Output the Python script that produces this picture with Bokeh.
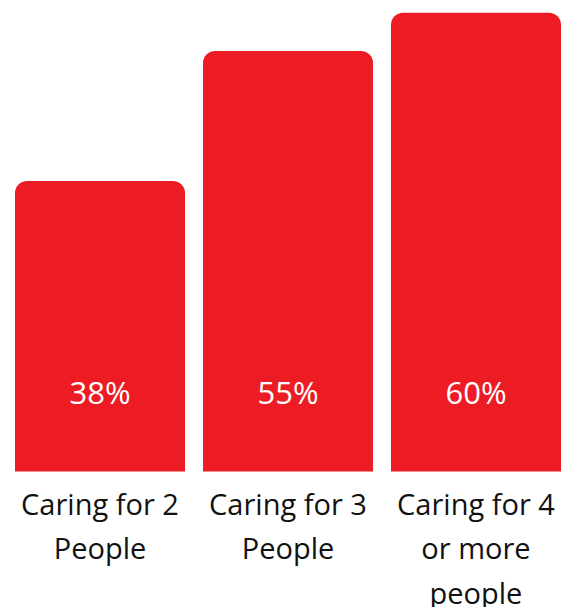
from bokeh.plotting import figure
from bokeh.models import ColumnDataSource, Range1d
from bokeh.core.properties import value
from bokeh.embed import file_html
from bokeh.resources import INLINE

categories = ["Caring for 2\nPeople", "Caring for 3\nPeople", "Caring for 4\nor more\npeople"]
values = [38, 55, 60]
value_labels = ["38%", "55%", "60%"]

W, H = 571, 607
px_per_unit = 7.645      # pixels per percentage point
baseline_px = 471        # baseline position from figure top
step_px = 188
first_center_px = 99.5

x_start = -first_center_px / step_px
x_end = x_start + W / step_px
y_top = baseline_px / px_per_unit
y_bot = -(H - baseline_px) / px_per_unit

xs = list(range(len(categories)))
src = ColumnDataSource(dict(x=xs, top=values, cat=categories, lab=value_labels,
                            ly=[80 / px_per_unit] * len(xs),
                            cy=[-12 / px_per_unit] * len(xs)))

p = figure(width=W, height=H, output_backend="svg", toolbar_location=None,
           x_range=Range1d(x_start, x_end), y_range=Range1d(y_bot, y_top),
           min_border=0, x_axis_location=None, y_axis_location=None,
           background_fill_color="white", border_fill_color="white")
p.outline_line_color = None
p.grid.visible = False

p.vbar(x="x", top="top", bottom=0, width=170 / step_px, source=src,
       fill_color="#ED1C24", line_color=None, border_radius=(12, 12, 0, 0))

p.text(x="x", y="ly", text="lab", source=src, text_color="white",
       text_font=value("Open Sans"), text_font_size="31px",
       text_align="center", text_baseline="alphabetic")

p.text(x="x", y="cy", text="cat", source=src, text_color="#111111",
       text_font=value("Open Sans"), text_font_size="29px",
       text_align="center", text_baseline="top", text_line_height=1.15)

open("out.html", "w").write(file_html(p, INLINE))
